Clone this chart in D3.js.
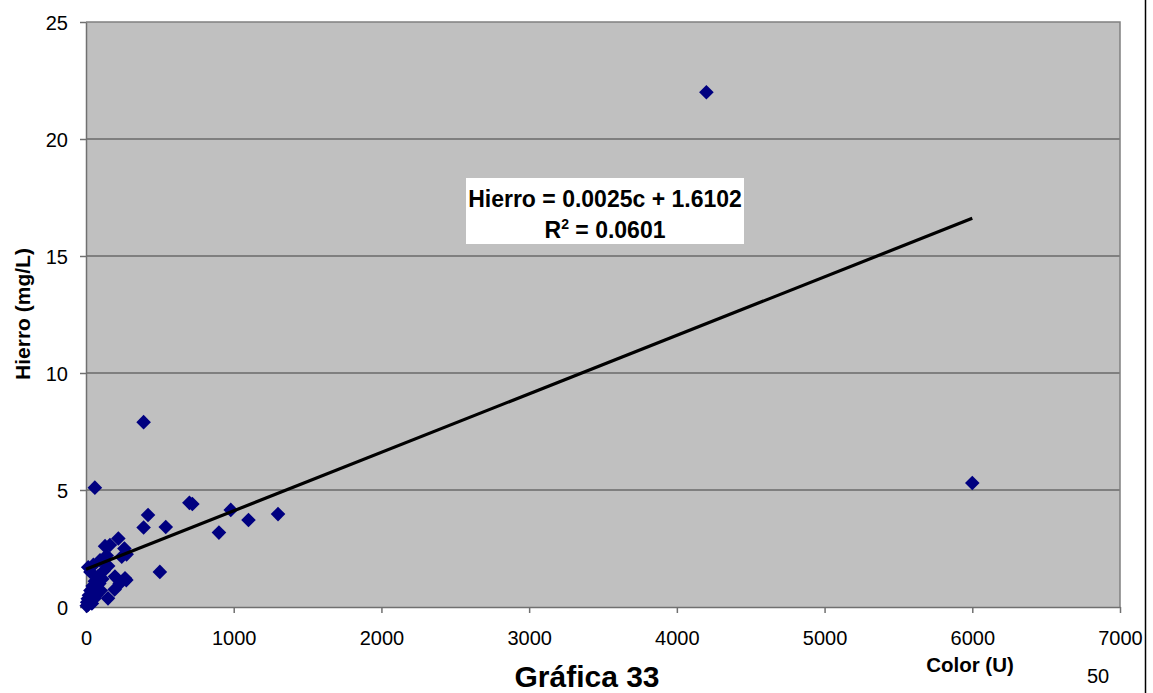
<!DOCTYPE html>
<html>
<head>
<meta charset="utf-8">
<script src="https://cdn.jsdelivr.net/npm/d3@7"></script>
<style>
  html, body { margin: 0; padding: 0; background: #fff; }
  svg { display: block; font-family: "Liberation Sans", Arial, sans-serif; }
</style>
</head>
<body>
<svg id="chart" width="1153" height="693"></svg>
<script>
// Color (U) vs Hierro (mg/L) samples
const colorU = [5, 8, 12, 15, 20, 25, 30, 35, 40, 45, 50, 55, 60, 65, 70, 80, 90, 100, 110,
  30, 15, 50, 95, 129, 140, 162, 219, 242, 260, 275, 196, 264, 273, 228, 194, 149, 120, 150,
  60, 390, 390, 420, 540, 500, 700, 720, 900, 980, 1100, 1300, 4200, 6000];
const hierro = [0.05, 0.2, 0.35, 0.1, 0.5, 0.25, 0.7, 0.45, 0.15, 0.9, 0.6, 0.35, 1.1, 0.8, 0.5, 1.3, 1.0, 0.7, 1.2,
  1.5, 1.7, 1.8, 2.0, 2.6, 2.2, 2.65, 2.93, 2.15, 2.5, 2.25, 1.3, 1.23, 1.15, 1.0, 0.75, 0.37, 1.55, 1.75,
  5.1, 7.9, 3.4, 3.93, 3.42, 1.5, 4.45, 4.4, 3.18, 4.15, 3.72, 3.97, 22, 5.3];

// Linear trend: Hierro = slope * c + intercept
const trendSlope = 0.0025;
const trendIntercept = 1.6102;
const trendR2 = 0.0601;
const trendRange = [0, 6000];

const xTicks = [0, 1000, 2000, 3000, 4000, 5000, 6000, 7000];
const yTicks = [0, 5, 10, 15, 20, 25];

const svg = d3.select("#chart");
const plotL = 86, plotR = 1120, plotT = 22, plotB = 607;

const x = d3.scaleLinear().domain([0, 7000]).range([plotL, plotR]);
const y = d3.scaleLinear().domain([0, 25]).range([plotB, plotT]);

// plot area background
svg.append("rect")
  .attr("x", plotL).attr("y", plotT)
  .attr("width", plotR - plotL).attr("height", plotB - plotT)
  .attr("fill", "#c0c0c0");

// horizontal gridlines
svg.append("g").selectAll("line")
  .data(yTicks.filter(v => v > 0 && v < 25))
  .join("line")
  .attr("x1", plotL).attr("x2", plotR)
  .attr("y1", d => y(d)).attr("y2", d => y(d))
  .attr("stroke", "#6a6a6a").attr("stroke-width", 1.5);

// plot border (top / right)
svg.append("path")
  .attr("d", `M${plotL},${plotT}H${plotR}V${plotB}`)
  .attr("fill", "none").attr("stroke", "#808080").attr("stroke-width", 1.5);

// axes
const xAxis = svg.append("g")
  .attr("transform", `translate(0,${plotB})`)
  .call(d3.axisBottom(x).tickValues(xTicks).tickSize(6).tickSizeOuter(0).tickFormat(d3.format("d")));
const yAxis = svg.append("g")
  .attr("transform", `translate(${plotL},0)`)
  .call(d3.axisLeft(y).tickValues(yTicks).tickSize(6).tickSizeOuter(0).tickFormat(d3.format("d")));

[xAxis, yAxis].forEach(g => {
  g.select(".domain").attr("stroke", "#707070").attr("stroke-width", 1.5);
  g.selectAll(".tick line").attr("stroke", "#707070").attr("stroke-width", 1.5);
  g.selectAll("text").attr("fill", "#000").attr("font-size", 20)
    .attr("font-family", "'Liberation Sans', Arial, sans-serif");
});
xAxis.selectAll("text").attr("y", 38).attr("dy", 0);
yAxis.selectAll("text").attr("x", -18).attr("dy", "0.35em");

// data points (diamonds)
const diamond = d3.symbol().type(d3.symbolDiamond2).size(136);
svg.append("g").selectAll("path")
  .data(colorU.map((c, i) => [c, hierro[i]]))
  .join("path")
  .attr("d", diamond)
  .attr("transform", d => `translate(${x(d[0])},${y(d[1])})`)
  .attr("fill", "#000080");

// trend line
const line = d3.line().x(d => x(d)).y(d => y(trendSlope * d + trendIntercept));
svg.append("path")
  .datum(trendRange)
  .attr("d", line)
  .attr("fill", "none").attr("stroke", "#000").attr("stroke-width", 3.2);

// equation label
svg.append("rect")
  .attr("x", 466).attr("y", 178).attr("width", 278).attr("height", 66)
  .attr("fill", "#fff");
const eq = svg.append("text")
  .attr("x", 605).attr("text-anchor", "middle")
  .attr("font-weight", "bold").attr("font-size", 23).attr("fill", "#000");
eq.append("tspan").attr("x", 605).attr("y", 207)
  .text(`Hierro = ${trendSlope.toFixed(4)}c + ${trendIntercept.toFixed(4)}`);
const r2 = eq.append("tspan").attr("x", 605).attr("y", 238);
r2.append("tspan").text("R");
r2.append("tspan").attr("font-size", 14).attr("dy", -9).text("2");
r2.append("tspan").attr("dy", 9).text(` = ${trendR2.toFixed(4)}`);

// axis titles
svg.append("text")
  .attr("transform", "translate(30,314) rotate(-90)")
  .attr("text-anchor", "middle")
  .attr("font-weight", "bold").attr("font-size", 21).attr("fill", "#000")
  .text("Hierro (mg/L)");
svg.append("text")
  .attr("x", 970).attr("y", 672).attr("text-anchor", "middle")
  .attr("font-weight", "bold").attr("font-size", 20.5).attr("fill", "#000")
  .text("Color (U)");

// caption and page number
svg.append("text")
  .attr("x", 587).attr("y", 687).attr("text-anchor", "middle")
  .attr("font-weight", "bold").attr("font-size", 30).attr("fill", "#000")
  .text("Gráfica 33");
svg.append("text")
  .attr("x", 1098).attr("y", 683).attr("text-anchor", "middle")
  .attr("font-size", 20).attr("fill", "#000")
  .text("50");

// page margin rule
svg.append("line")
  .attr("x1", 1145.5).attr("x2", 1145.5).attr("y1", 0).attr("y2", 693)
  .attr("stroke", "#000").attr("stroke-width", 1.5);
</script>
</body>
</html>
